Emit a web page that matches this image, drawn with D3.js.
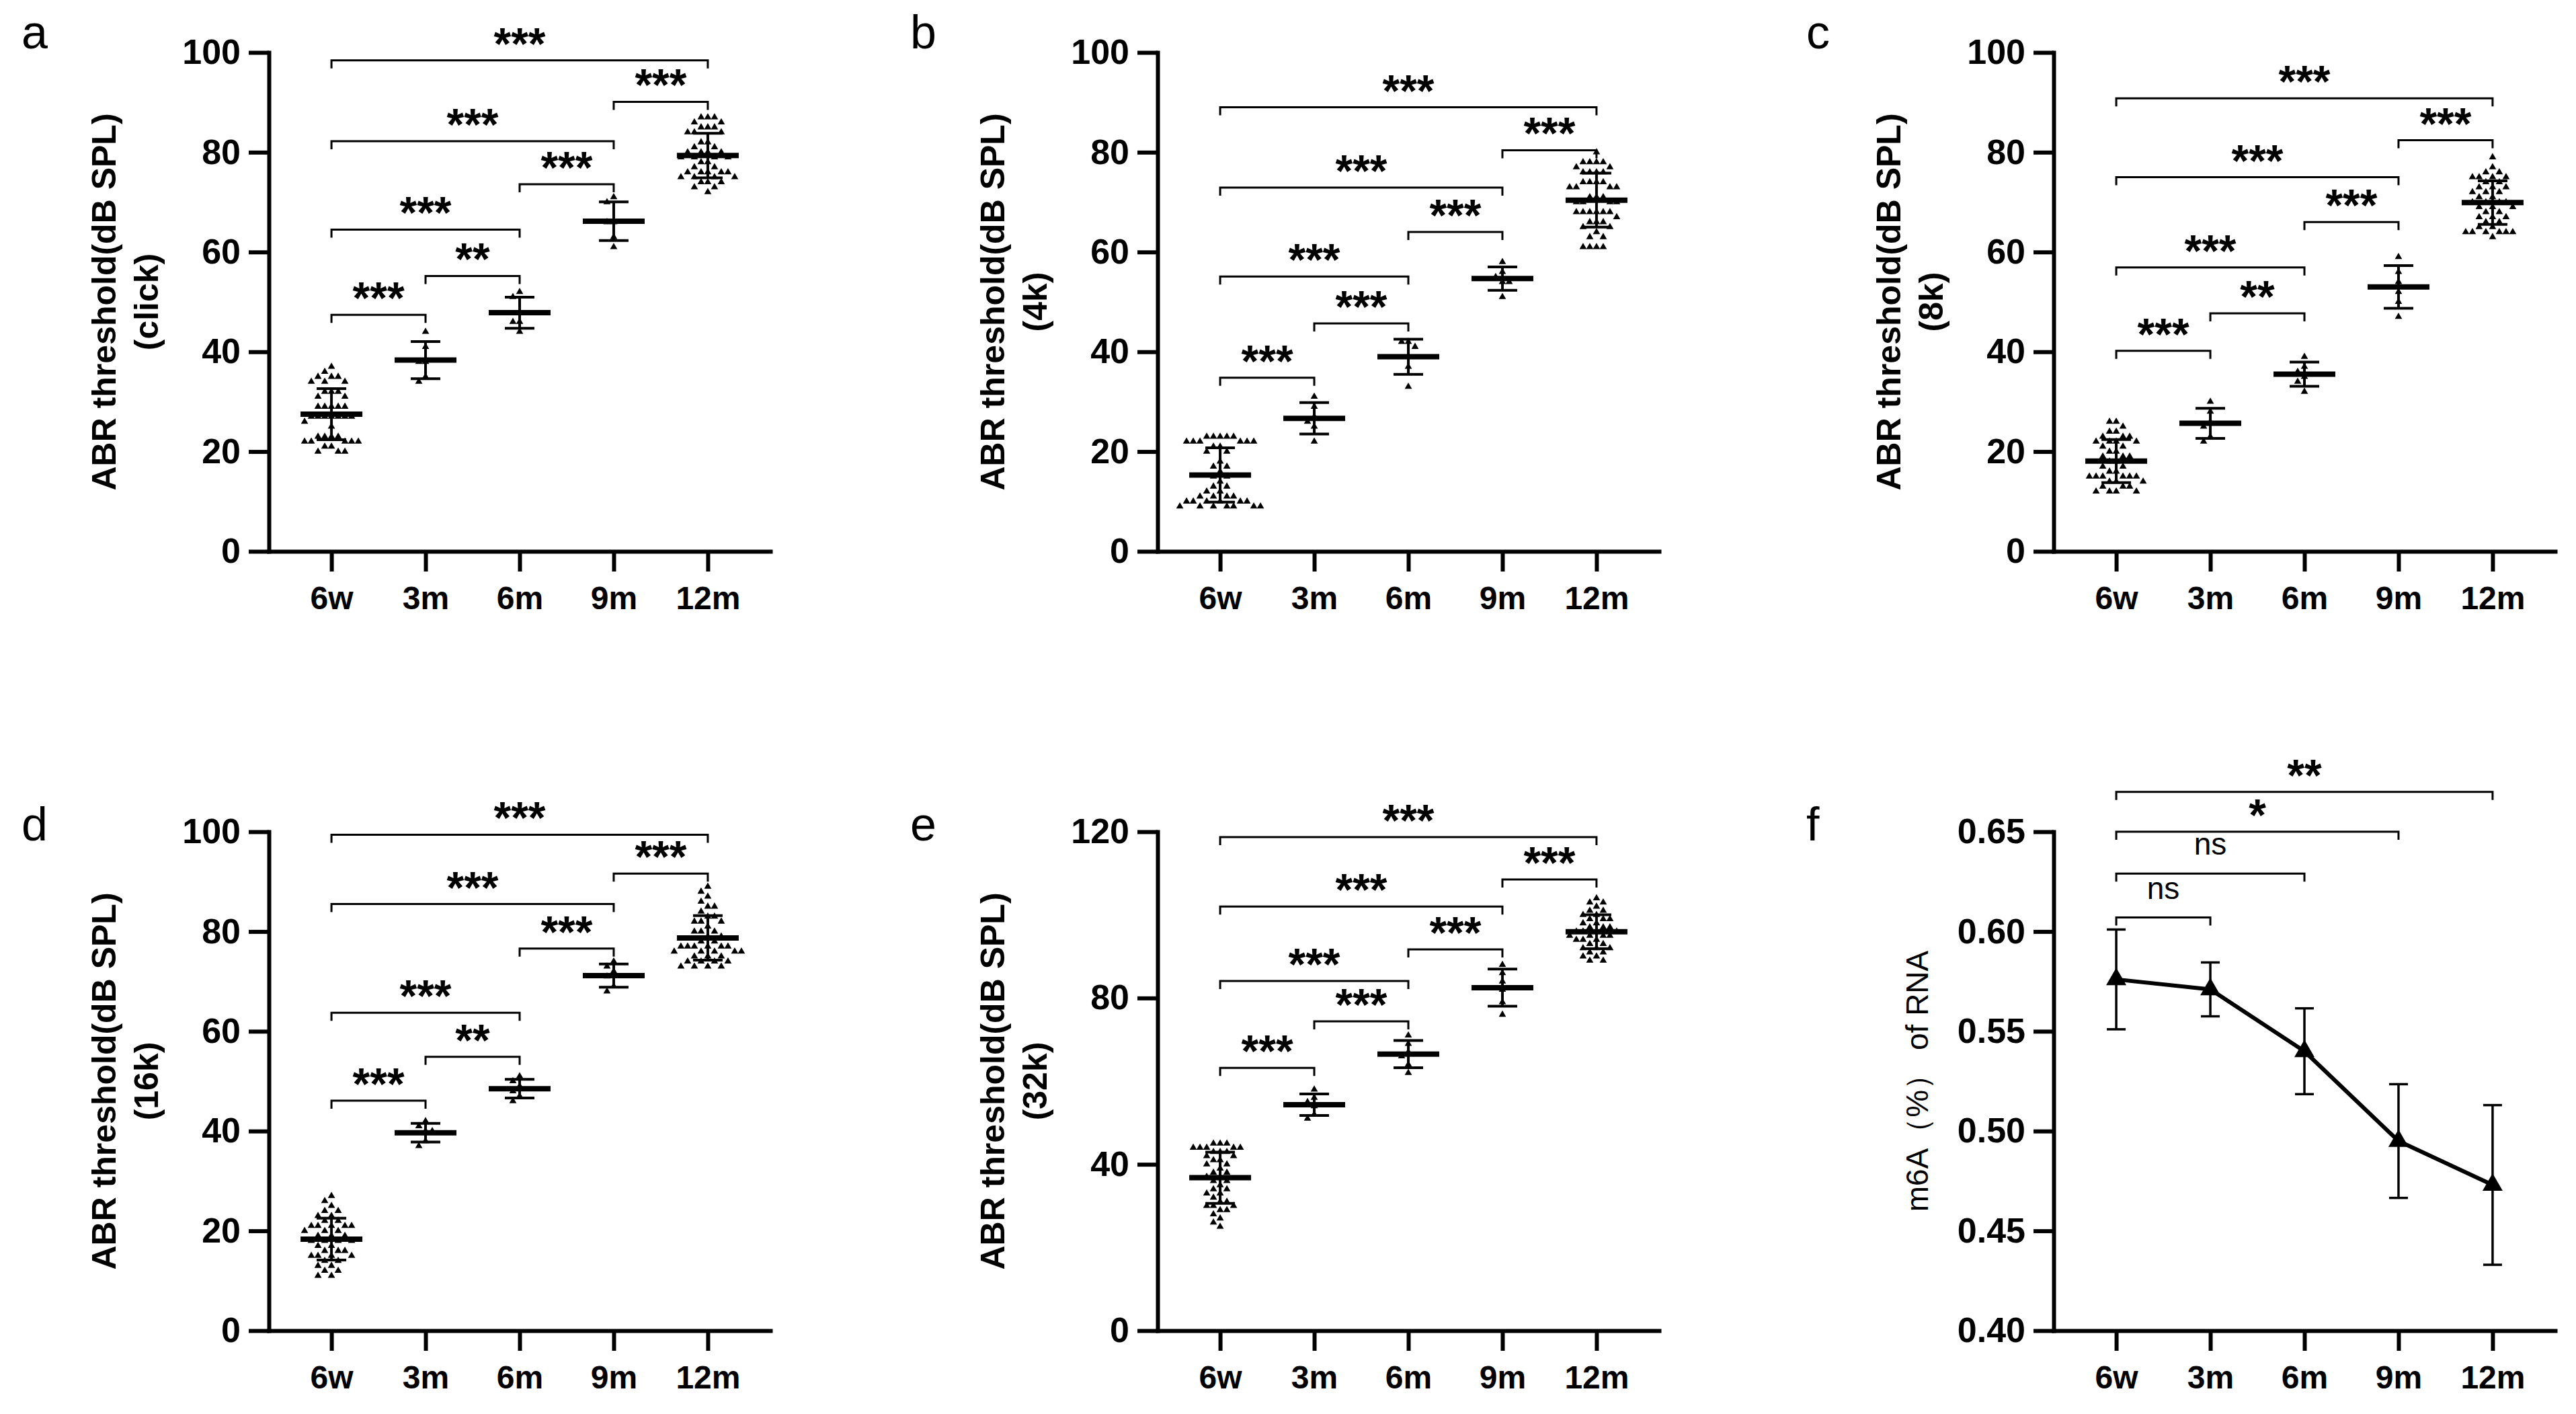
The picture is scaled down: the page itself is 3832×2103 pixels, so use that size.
<!DOCTYPE html>
<html>
<head>
<meta charset="utf-8">
<script src="https://cdn.jsdelivr.net/npm/d3@7"></script>
<style>
  body { margin: 0; background: #fff; }
  text { font-family: Arial, "Liberation Sans", sans-serif; fill: #000; }
</style>
</head>
<body>
<svg id="fig" width="3832" height="2103"></svg>
<script>
// ---- data ----
var groups = ["6w", "3m", "6m", "9m", "12m"];

var clickData = [
  [37,36,35,35,35,34,34,34,32,32,32,31,31,29,29,29,29,29,27,27,27,27,27,27,27,26,25,23,23,23,23,22,22,22,22,22,21,21,20,20,20],
  [44,41,38,38,35,34],
  [52,51,48,46,46,44],
  [71,70,66,66,63,61],
  [87,87,87,86,86,85,85,85,84,84,84,82,82,81,81,80,80,80,80,79,79,79,79,78,78,77,77,76,76,76,76,76,75,75,75,75,74,74,74,73,73,72]
];
var k4Data = [
  [23,23,23,23,23,22,22,22,22,22,22,21,21,20,20,18,17,17,16,15,15,14,13,13,12,12,11,11,11,11,10,10,10,10,10,10,9,9,9,9,9,9,9],
  [31,29,27,26,25,22],
  [42,42,41,39,37,33],
  [58,56,55,54,54,51],
  [80,78,78,78,78,77,77,76,76,76,76,74,74,74,74,73,73,73,73,71,71,71,70,70,70,70,68,68,68,68,68,68,67,66,66,66,65,65,64,63,63,61,61,61,61]
];
var k8Data = [
  [26,26,25,24,24,23,23,23,22,22,22,22,21,21,20,20,19,19,19,18,18,17,17,16,16,15,15,15,15,15,15,14,14,14,13,13,13,12,12,12,12],
  [30,28,26,25,23,22],
  [39,37,36,35,34,32],
  [59,56,54,52,50,47],
  [79,77,76,76,75,75,75,75,74,74,73,73,73,72,72,72,71,71,70,70,70,70,69,69,69,68,68,67,67,67,66,66,65,65,64,64,64,64,64,64,63]
];
var k16Data = [
  [27,26,25,24,24,23,23,22,22,21,21,21,21,21,20,20,20,19,19,19,18,18,18,18,17,17,16,16,16,15,15,15,15,14,14,13,13,12,12,11,11],
  [42,41,40,40,38,37],
  [51,50,49,48,47,46],
  [74,73,72,71,69,68],
  [89,88,87,86,85,85,84,83,83,82,82,82,81,80,80,80,79,79,78,78,77,77,77,77,77,77,76,76,76,76,76,75,75,75,74,74,74,74,73,73,73,73]
];
var k32Data = [
  [45,45,45,44,44,44,44,44,43,43,43,42,42,41,41,40,40,39,38,38,37,37,36,36,35,34,34,33,33,32,31,31,30,30,30,29,29,28,27,26,25],
  [58,56,55,54,52,51],
  [71,69,67,66,64,62],
  [88,86,84,82,79,76],
  [104,103,103,102,101,101,100,100,99,99,99,98,98,97,97,97,96,96,96,96,95,95,95,95,94,94,94,93,93,92,92,92,91,91,90,90,89,89]
];
var m6aMean = [0.576, 0.571, 0.540, 0.495, 0.473];
var m6aSD   = [0.025, 0.0135, 0.0215, 0.0285, 0.040];

// significance brackets: [from group, to group, height, label]
var clickBrackets = [[0,4,98.4,"***"],[3,4,90.1,"***"],[0,3,82.2,"***"],[2,3,73.6,"***"],[0,2,64.5,"***"],[1,2,55.2,"**"],[0,1,47.4,"***"]];
var k4Brackets    = [[0,4,89.0,"***"],[3,4,80.4,"***"],[0,3,72.9,"***"],[2,3,64.0,"***"],[0,2,55.1,"***"],[1,2,45.7,"***"],[0,1,34.8,"***"]];
var k8Brackets    = [[0,4,90.8,"***"],[3,4,82.4,"***"],[0,3,75.0,"***"],[2,3,66.0,"***"],[0,2,56.9,"***"],[1,2,47.7,"**"],[0,1,40.2,"***"]];
var k16Brackets   = [[0,4,99.4,"***"],[3,4,91.6,"***"],[0,3,85.5,"***"],[2,3,76.6,"***"],[0,2,63.7,"***"],[1,2,54.9,"**"],[0,1,46.1,"***"]];
var k32Brackets   = [[0,4,118.7,"***"],[3,4,108.5,"***"],[0,3,102.0,"***"],[2,3,91.7,"***"],[0,2,84.1,"***"],[1,2,74.4,"***"],[0,1,63.2,"***"]];
var m6aBrackets   = [[0,1,0.607,"ns"],[0,2,0.629,"ns"],[0,3,0.650,"*"],[0,4,0.670,"**"]];

var clickTicks = [0,20,40,60,80,100],
    k32Ticks   = [0,40,80,120],
    m6aTicks   = [0.40,0.45,0.50,0.55,0.60,0.65];

// ---- layout ----
var svg = d3.select("#fig");
var colX = [400, 1722, 3055], rowTop = [78, 1237],
    plotH = 742, plotW = 746, tickLen = 30, axisW = 6;

function mk_axes(g, y, x, ticks, fmt) {
    var ya = g.append("g")
        .call(d3.axisLeft(y).tickValues(ticks).tickSize(tickLen)
              .tickSizeOuter(0).tickPadding(12).tickFormat(fmt));
    var xa = g.append("g").attr("transform", "translate(0," + plotH + ")")
        .call(d3.axisBottom(x).tickSize(tickLen).tickSizeOuter(0).tickPadding(22));
    [ya, xa].forEach(function(a) {
        a.select(".domain").attr("stroke-width", axisW).attr("stroke-linecap", "square");
        a.selectAll(".tick line").attr("stroke-width", axisW);
        a.selectAll("text").style("font-weight", "bold").attr("fill", "#000");
    });
    ya.selectAll("text").style("font-size", "52px");
    xa.selectAll("text").style("font-size", "48px");
}

function mk_brackets(g, y, x, brackets) {
    brackets.forEach(function(b) {
        var x1 = x(groups[b[0]]), x2 = x(groups[b[1]]), yy = y(b[2]);
        g.append("path")
            .attr("d", "M" + x1 + "," + (yy + 12) + "V" + yy + "H" + x2 + "V" + (yy + 12))
            .attr("fill", "none").attr("stroke", "#000").attr("stroke-width", 3);
        var ns = b[3] === "ns";
        g.append("text")
            .attr("x", (x1 + x2) / 2).attr("y", ns ? yy - 28 : yy - 2)
            .attr("text-anchor", "middle")
            .style("font-size", ns ? "46px" : "66px")
            .style("font-weight", ns ? "normal" : "bold")
            .text(b[3]);
    });
}

function panel_letter(col, row, letter) {
    svg.append("text")
        .attr("x", colX[col] - 368).attr("y", row === 0 ? 72 : 1250)
        .style("font-size", "70px")
        .text(letter);
}

// simple beeswarm: nearest free slot to the centre line
function swarm(ys, step, dist) {
    var placed = [], order = ys.map(function(v, i) { return i; })
        .sort(function(a, b) { return ys[a] - ys[b]; });
    var out = new Array(ys.length);
    order.forEach(function(i) {
        var yv = ys[i];
        for (var k = 0; k < 60; k++) {
            var off = (k % 2 ? -1 : 1) * Math.ceil(k / 2) * step;
            var hit = placed.some(function(p) {
                var dx = p[0] - off, dy = p[1] - yv;
                return dx * dx + dy * dy < dist * dist;
            });
            if (!hit) { placed.push([off, yv]); out[i] = off; break; }
        }
    });
    return out;
}

function scatter_panel(col, row, letter, data, brackets, ymax, ticks, unit) {
    var g = svg.append("g")
        .attr("transform", "translate(" + colX[col] + "," + rowTop[row] + ")");
    var y = d3.scaleLinear().domain([0, ymax]).range([plotH, 0]),
        x = d3.scalePoint().domain(groups).range([0, plotW]).padding(0.665);

    mk_axes(g, y, x, ticks, d3.format("d"));

    var tri = d3.symbol(d3.symbolTriangle).size(50)();
    data.forEach(function(vals, gi) {
        var cx = x(groups[gi]),
            ys = vals.map(function(v) { return y(v); }),
            offs = swarm(ys, 5, 9.8);
        g.append("g").selectAll("path")
            .data(vals)
          .enter().append("path")
            .attr("d", tri)
            .attr("transform", function(d, i) { return "translate(" + (cx + offs[i]) + "," + ys[i] + ")"; })
            .attr("fill", "#000");

        var m = d3.mean(vals), sd = d3.deviation(vals),
            hi = y(m + sd), lo = y(m - sd), ym = y(m);
        var eb = g.append("g").attr("stroke", "#000");
        eb.append("line").attr("x1", cx).attr("x2", cx).attr("y1", hi).attr("y2", lo).attr("stroke-width", 4);
        eb.append("line").attr("x1", cx - 22).attr("x2", cx + 22).attr("y1", hi).attr("y2", hi).attr("stroke-width", 4);
        eb.append("line").attr("x1", cx - 22).attr("x2", cx + 22).attr("y1", lo).attr("y2", lo).attr("stroke-width", 4);
        eb.append("line").attr("x1", cx - 46).attr("x2", cx + 46).attr("y1", ym).attr("y2", ym).attr("stroke-width", 8);
    });

    mk_brackets(g, y, x, brackets);

    g.append("text")
        .attr("transform", "translate(-228," + plotH / 2 + ") rotate(-90)")
        .attr("text-anchor", "middle")
        .style("font-size", "50px").style("font-weight", "bold")
        .text("ABR threshold(dB SPL)");
    g.append("text")
        .attr("transform", "translate(-165," + plotH / 2 + ") rotate(-90)")
        .attr("text-anchor", "middle")
        .style("font-size", "50px").style("font-weight", "bold")
        .text(unit);

    panel_letter(col, row, letter);
}

scatter_panel(0, 0, "a", clickData, clickBrackets, 100, clickTicks, "(click)");
scatter_panel(1, 0, "b", k4Data, k4Brackets, 100, clickTicks, "(4k)");
scatter_panel(2, 0, "c", k8Data, k8Brackets, 100, clickTicks, "(8k)");
scatter_panel(0, 1, "d", k16Data, k16Brackets, 100, clickTicks, "(16k)");
scatter_panel(1, 1, "e", k32Data, k32Brackets, 120, k32Ticks, "(32k)");

// ---- panel f: m6A line with SD ----
(function() {
    var g = svg.append("g")
        .attr("transform", "translate(" + colX[2] + "," + rowTop[1] + ")");
    var y = d3.scaleLinear().domain([0.40, 0.65]).range([plotH, 0]),
        x = d3.scalePoint().domain(groups).range([0, plotW]).padding(0.665);

    mk_axes(g, y, x, m6aTicks, d3.format(".2f"));

    var eb = g.append("g").attr("stroke", "#000").attr("stroke-width", 3.5);
    m6aMean.forEach(function(m, i) {
        var cx = x(groups[i]), hi = y(m + m6aSD[i]), lo = y(m - m6aSD[i]);
        eb.append("line").attr("x1", cx).attr("x2", cx).attr("y1", hi).attr("y2", lo);
        eb.append("line").attr("x1", cx - 14).attr("x2", cx + 14).attr("y1", hi).attr("y2", hi);
        eb.append("line").attr("x1", cx - 14).attr("x2", cx + 14).attr("y1", lo).attr("y2", lo);
    });

    var line = d3.line()
        .x(function(d, i) { return x(groups[i]); })
        .y(function(d) { return y(d); });
    g.append("path").datum(m6aMean)
        .attr("d", line).attr("fill", "none")
        .attr("stroke", "#000").attr("stroke-width", 6).attr("stroke-linejoin", "round");

    g.selectAll("path.mk")
        .data(m6aMean)
      .enter().append("path")
        .attr("class", "mk")
        .attr("d", d3.symbol(d3.symbolTriangle).size(390))
        .attr("transform", function(d, i) { return "translate(" + x(groups[i]) + "," + y(d) + ")"; })
        .attr("fill", "#000");

    mk_brackets(g, y, x, m6aBrackets);

    g.append("text")
        .attr("transform", "translate(-187," + plotH / 2 + ") rotate(-90)")
        .attr("text-anchor", "middle")
        .style("font-size", "46px")
        .text("m6A（%） of RNA");

    panel_letter(2, 1, "f");
})();
</script>
</body>
</html>
